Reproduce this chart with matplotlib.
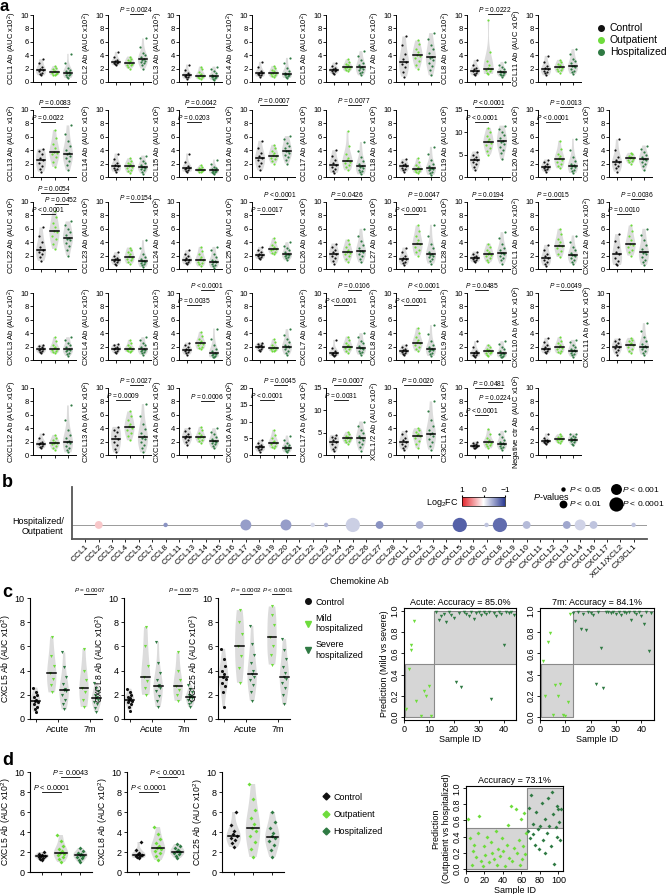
import numpy as np
import matplotlib.pyplot as plt
from matplotlib.colors import LinearSegmentedColormap, Normalize
from matplotlib.cm import ScalarMappable
from matplotlib.lines import Line2D

plt.rcParams['font.family'] = ['Liberation Sans', 'DejaVu Sans']
plt.rcParams['mathtext.fontset'] = 'custom'
plt.rcParams['mathtext.it'] = 'Liberation Sans:italic'
plt.rcParams['mathtext.rm'] = 'Liberation Sans'

# ---------------- panel a data: (control, outpatient, hospitalized) -------------
ccl1 = ([1.0, 1.2, 1.4, 1.6, 1.8, 2.0, 2.3, 2.9, 3.4], [1.0, 1.1, 1.2, 1.3, 1.4, 1.6, 1.7, 1.9, 2.1, 2.4], [0.6, 0.8, 1.0, 1.1, 1.2, 1.35, 1.45, 1.6, 1.8, 2.1, 2.8, 4.2])
ccl2 = ([2.5, 2.7, 2.8, 2.9, 3.0, 3.1, 3.3, 3.8, 4.5], [2.0, 2.3, 2.5, 2.6, 2.7, 2.9, 3.1, 3.3, 3.5, 3.8], [2.0, 2.5, 2.8, 3.0, 3.2, 3.35, 3.45, 3.7, 4.0, 4.4, 5.2, 6.5])
ccl3 = ([0.5, 0.7, 0.8, 0.9, 1.0, 1.1, 1.3, 1.8, 2.6], [0.4, 0.6, 0.7, 0.8, 0.9, 1.0, 1.2, 1.5, 1.9, 2.3], [0.3, 0.5, 0.6, 0.7, 0.8, 0.85, 0.95, 1.1, 1.3, 1.6, 2.0, 2.3])
ccl4 = ([0.8, 1.0, 1.1, 1.2, 1.3, 1.4, 1.7, 2.2, 3.0], [0.7, 0.9, 1.0, 1.2, 1.3, 1.4, 1.6, 1.8, 2.1, 2.4], [0.6, 0.8, 0.9, 1.0, 1.1, 1.15, 1.25, 1.4, 1.7, 2.1, 2.8, 3.6])
ccl5 = ([1.2, 1.4, 1.6, 1.7, 1.8, 1.9, 2.1, 2.4, 2.9], [1.6, 1.8, 1.9, 2.1, 2.2, 2.3, 2.5, 2.7, 3.0, 3.4], [1.0, 1.3, 1.5, 1.8, 2.0, 2.15, 2.3, 2.6, 2.9, 3.3, 3.9, 4.6])
ccl7 = ([0.8, 1.5, 2.2, 2.7, 3.0, 3.4, 4.2, 5.5, 6.8], [2.0, 2.6, 3.1, 3.6, 3.9, 4.1, 4.5, 5.0, 5.6, 6.2], [1.0, 1.8, 2.4, 2.9, 3.3, 3.6, 3.8, 4.3, 4.9, 5.5, 6.4, 7.3])
ccl8 = ([1.0, 1.2, 1.4, 1.6, 1.7, 1.9, 2.1, 2.6, 3.3], [1.2, 1.4, 1.6, 1.8, 1.9, 2.1, 2.5, 3.2, 4.5, 9.2], [0.8, 1.0, 1.1, 1.2, 1.4, 1.45, 1.55, 1.7, 1.9, 2.2, 2.6, 3.0])
ccl11 = ([1.0, 1.3, 1.5, 1.7, 1.9, 2.1, 2.4, 3.0, 3.9], [1.4, 1.6, 1.8, 2.0, 2.1, 2.3, 2.5, 2.7, 3.0, 3.3], [1.2, 1.5, 1.7, 1.9, 2.2, 2.35, 2.45, 2.8, 3.1, 3.5, 4.2, 4.9])
ccl13 = ([0.8, 1.2, 1.7, 2.1, 2.5, 2.9, 3.4, 3.9, 4.2], [1.5, 2.3, 3.0, 3.4, 3.6, 3.8, 4.3, 4.9, 5.8, 7.0], [1.0, 1.8, 2.4, 2.8, 3.2, 3.4, 3.6, 4.0, 4.6, 5.3, 6.4, 7.7])
ccl14 = ([0.8, 1.0, 1.2, 1.4, 1.6, 1.8, 2.1, 2.7, 3.5], [0.6, 0.9, 1.1, 1.4, 1.55, 1.65, 1.9, 2.1, 2.4, 2.8], [0.5, 0.8, 1.0, 1.2, 1.4, 1.45, 1.55, 1.8, 2.1, 2.4, 2.8, 3.2])
ccl15 = ([0.8, 0.9, 1.0, 1.2, 1.3, 1.4, 1.7, 2.3, 3.5], [0.7, 0.8, 0.9, 1.0, 1.05, 1.15, 1.2, 1.3, 1.5, 1.8], [0.5, 0.6, 0.7, 0.8, 0.9, 0.95, 1.05, 1.15, 1.3, 1.5, 1.9, 2.6])
ccl16 = ([1.0, 1.6, 2.1, 2.5, 2.8, 3.1, 3.6, 4.3, 5.4], [2.0, 2.4, 2.7, 2.9, 3.1, 3.3, 3.6, 3.9, 4.3, 4.8], [2.0, 2.6, 3.0, 3.3, 3.6, 3.85, 3.95, 4.3, 4.7, 5.1, 5.6, 6.1])
ccl17 = ([0.6, 0.9, 1.2, 1.5, 1.8, 2.1, 2.6, 3.2, 4.0], [1.0, 1.5, 1.8, 2.1, 2.3, 2.5, 2.9, 3.5, 4.6, 6.8], [0.4, 0.7, 0.9, 1.1, 1.4, 1.55, 1.65, 2.0, 2.4, 3.0, 3.9, 5.2])
ccl18 = ([0.8, 1.0, 1.2, 1.4, 1.6, 1.8, 2.0, 2.3, 2.7], [0.6, 0.8, 0.9, 1.0, 1.15, 1.25, 1.5, 1.8, 2.2, 2.8], [0.3, 0.6, 0.8, 1.0, 1.2, 1.25, 1.35, 1.6, 2.0, 2.6, 3.4, 4.5])
ccl19 = ([1.5, 2.2, 2.8, 3.3, 3.7, 4.0, 4.5, 5.0, 5.7], [5.0, 5.9, 6.6, 7.2, 7.7, 8.1, 8.6, 9.2, 10.0, 11.0], [4.0, 5.3, 6.1, 6.8, 7.4, 7.9, 8.1, 8.7, 9.3, 10.0, 10.8, 11.5])
ccl20 = ([0.8, 1.0, 1.2, 1.4, 1.5, 1.7, 1.9, 2.2, 2.6], [1.3, 1.7, 2.0, 2.3, 2.6, 2.8, 3.1, 3.5, 4.2, 5.4], [0.6, 0.9, 1.1, 1.3, 1.5, 1.65, 1.75, 2.0, 2.4, 3.0, 4.0, 5.7])
ccl21 = ([0.8, 1.3, 1.7, 2.0, 2.2, 2.5, 3.0, 4.0, 5.6], [2.0, 2.2, 2.4, 2.6, 2.75, 2.85, 3.0, 3.2, 3.4, 3.6], [1.0, 1.6, 2.0, 2.3, 2.5, 2.65, 2.75, 3.0, 3.3, 3.7, 4.2, 4.7])
ccl22 = ([1.2, 1.8, 2.2, 2.5, 2.8, 3.3, 4.0, 5.0, 6.2], [3.0, 3.8, 4.5, 5.0, 5.5, 5.7, 6.2, 6.9, 7.7, 8.6], [2.0, 2.8, 3.4, 3.9, 4.3, 4.5, 4.7, 5.1, 5.5, 6.0, 6.6, 7.1])
ccl23 = ([0.6, 0.8, 1.0, 1.2, 1.3, 1.5, 1.7, 2.0, 2.5], [0.8, 1.0, 1.3, 1.5, 1.7, 1.9, 2.2, 2.5, 2.9, 3.2], [0.3, 0.6, 0.8, 0.9, 1.1, 1.15, 1.25, 1.5, 1.8, 2.3, 3.2, 4.3])
ccl24 = ([0.7, 0.9, 1.1, 1.3, 1.4, 1.6, 1.9, 2.3, 2.8], [0.4, 0.7, 0.9, 1.1, 1.3, 1.5, 1.8, 2.2, 2.7, 3.3], [0.2, 0.4, 0.6, 0.8, 1.0, 1.05, 1.15, 1.4, 1.8, 2.3, 2.8, 3.3])
ccl25 = ([1.5, 1.7, 1.8, 2.0, 2.1, 2.3, 2.5, 2.9, 3.3], [2.2, 2.4, 2.6, 2.8, 2.95, 3.05, 3.3, 3.6, 4.0, 4.6], [1.3, 1.6, 1.8, 1.9, 2.1, 2.15, 2.25, 2.5, 2.8, 3.1, 3.5, 4.0])
ccl26 = ([0.8, 1.2, 1.6, 1.9, 2.2, 2.5, 2.8, 3.3, 3.8], [1.0, 1.5, 1.9, 2.2, 2.4, 2.6, 2.9, 3.3, 3.8, 4.4], [1.0, 1.5, 1.9, 2.2, 2.5, 2.65, 2.75, 3.1, 3.6, 4.2, 5.0, 6.0])
ccl27 = ([0.6, 0.9, 1.1, 1.3, 1.5, 1.7, 2.0, 2.5, 3.2], [2.0, 2.5, 2.9, 3.3, 3.7, 3.9, 4.3, 4.9, 5.6, 6.5], [0.8, 1.2, 1.5, 1.8, 2.0, 2.15, 2.25, 2.6, 3.1, 3.8, 5.0, 6.6])
ccl28 = ([1.0, 1.2, 1.3, 1.5, 1.7, 1.8, 2.0, 2.3, 2.6], [1.0, 1.4, 1.7, 1.9, 2.1, 2.3, 2.6, 2.9, 3.3, 3.8], [0.8, 1.3, 1.6, 1.9, 2.2, 2.35, 2.45, 2.8, 3.2, 3.8, 4.6, 5.5])
cxcl1 = ([0.5, 0.8, 1.1, 1.4, 1.6, 1.9, 2.3, 2.9, 3.6], [1.8, 2.3, 2.7, 3.1, 3.4, 3.6, 4.0, 4.5, 5.2, 6.0], [0.8, 1.1, 1.4, 1.6, 1.9, 2.05, 2.15, 2.4, 2.8, 3.3, 4.1, 5.0])
cxcl2 = ([0.6, 0.8, 1.2, 1.7, 2.2, 2.6, 3.3, 4.2, 5.2], [2.0, 2.5, 2.9, 3.3, 3.6, 3.8, 4.3, 4.9, 5.6, 6.5], [0.6, 1.0, 1.4, 1.8, 2.2, 2.4, 2.6, 3.0, 3.6, 4.3, 5.1, 6.0])
cxcl3 = ([1.0, 1.2, 1.3, 1.5, 1.6, 1.7, 1.9, 2.1, 2.3], [1.0, 1.2, 1.4, 1.5, 1.65, 1.75, 2.0, 2.3, 2.8, 3.4], [0.6, 0.9, 1.1, 1.3, 1.5, 1.55, 1.65, 1.9, 2.2, 2.6, 3.0, 3.4])
cxcl4 = ([1.0, 1.2, 1.4, 1.6, 1.7, 1.8, 2.0, 2.2, 2.4], [1.2, 1.3, 1.4, 1.55, 1.65, 1.75, 1.9, 2.2, 2.6, 3.0], [0.8, 1.0, 1.2, 1.35, 1.5, 1.55, 1.65, 1.9, 2.2, 2.6, 3.0, 3.4])
cxcl5 = ([0.8, 1.0, 1.2, 1.4, 1.5, 1.7, 1.9, 2.2, 2.6], [1.6, 1.8, 2.0, 2.2, 2.4, 2.6, 2.8, 3.1, 3.6, 4.2], [0.4, 0.5, 0.6, 0.7, 0.9, 0.95, 1.05, 1.3, 1.7, 2.3, 3.2, 4.7])
cxcl6 = ([1.3, 1.5, 1.7, 1.9, 2.0, 2.1, 2.2, 2.4, 2.6], [1.3, 1.4, 1.5, 1.7, 1.75, 1.85, 2.0, 2.3, 2.7, 3.1], [0.8, 1.1, 1.4, 1.6, 1.9, 1.95, 2.05, 2.3, 2.7, 3.1, 3.8, 4.6])
cxcl7 = ([0.6, 0.7, 0.8, 0.9, 1.0, 1.1, 1.3, 1.8, 3.0], [1.0, 1.3, 1.6, 1.8, 1.95, 2.05, 2.3, 2.6, 3.0, 3.5], [0.8, 1.0, 1.2, 1.4, 1.7, 1.75, 1.85, 2.1, 2.5, 2.9, 3.5, 4.0])
cxcl8 = ([0.8, 0.9, 1.1, 1.2, 1.4, 1.5, 1.7, 2.0, 2.3], [1.3, 1.7, 2.0, 2.3, 2.55, 2.65, 3.0, 3.4, 4.0, 4.8], [0.6, 0.9, 1.1, 1.3, 1.5, 1.55, 1.65, 1.9, 2.3, 2.9, 3.9, 5.2])
cxcl9 = ([0.5, 0.6, 0.7, 0.8, 1.0, 1.1, 1.3, 1.9, 2.8], [0.6, 0.8, 1.0, 1.1, 1.25, 1.35, 1.5, 1.7, 2.0, 2.3], [0.4, 0.5, 0.6, 0.7, 0.9, 0.95, 1.05, 1.3, 1.6, 2.0, 2.4, 2.8])
cxcl10 = ([1.0, 1.2, 1.4, 1.6, 1.7, 1.9, 2.2, 2.7, 3.3], [1.0, 1.2, 1.4, 1.6, 1.85, 1.95, 2.2, 2.5, 2.9, 3.4], [0.5, 0.7, 0.9, 1.1, 1.3, 1.35, 1.45, 1.7, 2.0, 2.3, 2.7, 3.0])
cxcl11 = ([0.8, 1.2, 1.5, 1.8, 2.0, 2.2, 2.5, 2.8, 3.2], [1.0, 1.4, 1.7, 2.0, 2.25, 2.35, 2.6, 2.8, 3.0, 3.3], [0.8, 1.1, 1.4, 1.7, 1.9, 1.95, 2.05, 2.4, 2.9, 3.5, 4.4, 5.5])
cxcl12 = ([1.0, 1.2, 1.4, 1.6, 1.7, 1.8, 2.0, 2.5, 3.2], [0.8, 1.1, 1.3, 1.6, 1.75, 1.85, 2.0, 2.3, 2.6, 3.0], [0.4, 0.8, 1.1, 1.4, 1.8, 1.95, 2.05, 2.5, 3.0, 3.8, 5.2, 7.4])
cxcl13 = ([0.4, 0.9, 1.5, 2.0, 2.4, 2.9, 3.4, 3.8, 4.2], [2.2, 2.8, 3.3, 3.7, 4.1, 4.3, 4.7, 5.2, 5.8, 6.5], [0.4, 1.0, 1.5, 1.9, 2.4, 2.6, 2.8, 3.3, 3.9, 4.7, 5.8, 7.6])
cxcl14 = ([1.5, 1.9, 2.2, 2.5, 2.7, 2.9, 3.2, 3.6, 4.0], [1.8, 2.1, 2.3, 2.5, 2.65, 2.75, 3.0, 3.3, 3.7, 4.2], [1.0, 1.3, 1.6, 1.8, 2.0, 2.05, 2.15, 2.4, 2.7, 3.1, 3.5, 4.0])
cxcl16 = ([1.0, 1.4, 1.7, 2.0, 2.3, 2.6, 3.0, 3.6, 4.5], [2.0, 2.4, 2.8, 3.2, 3.6, 3.8, 4.3, 5.0, 6.0, 7.5], [0.8, 1.1, 1.4, 1.7, 2.0, 2.15, 2.25, 2.6, 3.1, 3.7, 4.6, 5.8])
cxcl17 = ([0.8, 1.4, 1.9, 2.4, 2.9, 3.3, 3.7, 4.1, 4.5], [2.5, 2.8, 3.1, 3.4, 3.65, 3.75, 4.0, 4.3, 4.7, 5.2], [1.0, 1.8, 2.4, 2.9, 3.4, 3.75, 3.85, 4.3, 4.9, 5.6, 6.5, 7.5])
xcl1_2 = ([0.8, 1.1, 1.4, 1.7, 1.9, 2.2, 2.6, 3.1, 3.6], [1.0, 1.6, 2.1, 2.5, 2.85, 2.95, 3.2, 3.5, 3.8, 4.0], [0.8, 1.4, 1.9, 2.4, 2.9, 3.15, 3.25, 3.7, 4.3, 5.2, 6.5, 8.0])
cx3cl1 = ([1.0, 1.1, 1.2, 1.3, 1.4, 1.5, 1.6, 1.8, 2.0], [1.0, 1.3, 1.5, 1.7, 1.85, 1.95, 2.2, 2.6, 3.2, 3.9], [0.8, 1.0, 1.2, 1.4, 1.6, 1.65, 1.75, 2.0, 2.3, 2.7, 3.1, 3.6])
neg_ctr = ([1.7, 1.8, 1.9, 2.0, 2.1, 2.2, 2.3, 2.6, 3.2], [1.8, 1.9, 2.1, 2.3, 2.35, 2.45, 2.6, 2.7, 2.9, 3.1], [1.5, 1.7, 1.9, 2.1, 2.2, 2.25, 2.35, 2.5, 2.7, 2.9, 3.1, 3.2])

rows_a = [
    [("CCL1", ccl1), ("CCL2", ccl2), ("CCL3", ccl3), ("CCL4", ccl4), ("CCL5", ccl5),
     ("CCL7", ccl7), ("CCL8", ccl8), ("CCL11", ccl11)],
    [("CCL13", ccl13), ("CCL14", ccl14), ("CCL15", ccl15), ("CCL16", ccl16), ("CCL17", ccl17),
     ("CCL18", ccl18), ("CCL19", ccl19), ("CCL20", ccl20), ("CCL21", ccl21)],
    [("CCL22", ccl22), ("CCL23", ccl23), ("CCL24", ccl24), ("CCL25", ccl25), ("CCL26", ccl26),
     ("CCL27", ccl27), ("CCL28", ccl28), ("CXCL1", cxcl1), ("CXCL2", cxcl2)],
    [("CXCL3", cxcl3), ("CXCL4", cxcl4), ("CXCL5", cxcl5), ("CXCL6", cxcl6), ("CXCL7", cxcl7),
     ("CXCL8", cxcl8), ("CXCL9", cxcl9), ("CXCL10", cxcl10), ("CXCL11", cxcl11)],
    [("CXCL12", cxcl12), ("CXCL13", cxcl13), ("CXCL14", cxcl14), ("CXCL16", cxcl16),
     ("CXCL17", cxcl17), ("XCL1/2", xcl1_2), ("CX3CL1", cx3cl1), ("Negative ctr", neg_ctr)],
]
ymax_a = {"CCL19": 15, "CXCL16": 20, "CXCL17": 15}

# (panel, group i, group j, text, bracket height as fraction of y max)
annot_a = [
    ("CCL2", 1, 2, "= 0.0024", 1.02), ("CCL8", 1, 2, "= 0.0222", 1.02),
    ("CCL13", 0, 2, "= 0.0083", 1.05), ("CCL13", 0, 1, "= 0.0022", 0.82),
    ("CCL15", 0, 2, "= 0.0042", 1.05), ("CCL15", 0, 1, "= 0.0203", 0.82),
    ("CCL16", 0, 2, "= 0.0007", 1.07), ("CCL17", 1, 2, "= 0.0077", 1.07),
    ("CCL19", 0, 2, "< 0.0001", 1.05), ("CCL19", 0, 1, "< 0.0001", 0.82),
    ("CCL20", 1, 2, "= 0.0013", 1.05), ("CCL20", 0, 1, "< 0.0001", 0.82),
    ("CCL22", 0, 2, "= 0.0054", 1.13), ("CCL22", 1, 2, "= 0.0452", 0.97),
    ("CCL22", 0, 1, "< 0.0001", 0.82), ("CCL23", 1, 2, "= 0.0154", 1.0),
    ("CCL25", 1, 2, "< 0.0001", 1.05), ("CCL25", 0, 1, "= 0.0017", 0.82),
    ("CCL26", 0, 2, "= 0.0426", 1.05),
    ("CCL27", 1, 2, "= 0.0047", 1.05), ("CCL27", 0, 1, "< 0.0001", 0.82),
    ("CCL28", 0, 2, "= 0.0194", 1.05), ("CXCL1", 0, 1, "= 0.0015", 1.05),
    ("CXCL2", 1, 2, "= 0.0036", 1.05), ("CXCL2", 0, 1, "= 0.0010", 0.82),
    ("CXCL5", 1, 2, "< 0.0001", 1.05), ("CXCL5", 0, 1, "= 0.0035", 0.82),
    ("CXCL7", 1, 2, "= 0.0106", 1.05), ("CXCL7", 0, 1, "< 0.0001", 0.82),
    ("CXCL8", 1, 2, "< 0.0001", 1.05), ("CXCL8", 0, 1, "< 0.0001", 0.82),
    ("CXCL9", 0, 1, "= 0.0485", 1.05), ("CXCL10", 1, 2, "= 0.0049", 1.05),
    ("CXCL13", 1, 2, "= 0.0027", 1.05), ("CXCL13", 0, 1, "= 0.0009", 0.82),
    ("CXCL14", 1, 2, "= 0.0006", 0.8),
    ("CXCL16", 1, 2, "= 0.0045", 1.05), ("CXCL16", 0, 1, "< 0.0001", 0.82),
    ("CXCL17", 0, 2, "= 0.0007", 1.05), ("CXCL17", 0, 1, "= 0.0031", 0.82),
    ("XCL1/2", 0, 2, "= 0.0020", 1.05),
    ("CX3CL1", 0, 2, "= 0.0481", 1.0), ("CX3CL1", 1, 2, "= 0.0224", 0.79),
    ("CX3CL1", 0, 1, "< 0.0001", 0.6),
]

# ---------------- panel b data ----------------
b_names = ["CCL1", "CCL2", "CCL3", "CCL4", "CCL5", "CCL7", "CCL8", "CCL11", "CCL13", "CCL14",
           "CCL15", "CCL16", "CCL17", "CCL18", "CCL19", "CCL20", "CCL21", "CCL22", "CCL23",
           "CCL24", "CCL25", "CCL26", "CCL27", "CCL28", "CXCL1", "CXCL2", "CXCL3", "CXCL4",
           "CXCL5", "CXCL6", "CXCL7", "CXCL8", "CXCL9", "CXCL10", "CXCL11", "CXCL12", "CXCL13",
           "CXCL14", "CXCL16", "CXCL17", "XCL1/XCL2", "CX3CL1"]
b_sig = ["CCL2", "CCL8", "CCL17", "CCL20", "CCL22", "CCL23", "CCL25", "CCL27", "CXCL2",
         "CXCL5", "CXCL7", "CXCL8", "CXCL10", "CXCL13", "CXCL14", "CXCL16", "CX3CL1"]
b_log2fc = [0.25, -0.55, -0.5, -0.5, -0.18, -0.38, -0.25, -0.55, -0.4,
            -0.8, -0.3, -0.75, -0.35, -0.45, -0.22, -0.3, -0.3]
b_plevel = [2, 1, 3, 3, 1, 1, 4, 2, 2, 4, 1, 4, 2, 2, 3, 2, 1]

# ---------------- panel c data ----------------
c_names = ["CXCL5", "CXCL8", "CCL25"]
c_ctrl = [[0.6, 0.8, 1.0, 1.2, 1.4, 1.5, 1.6, 1.8, 2.0, 2.2, 2.6],
          [0.7, 1.0, 1.2, 1.4, 1.5, 1.6, 1.7, 1.8, 2.0, 2.2, 2.5],
          [1.0, 2.2, 2.7, 3.0, 3.3, 3.5, 3.7, 4.0, 4.4, 5.0, 5.8]]
c_acute_mild = [[2.2, 2.8, 3.3, 3.8, 4.4, 5.2, 6.8],
                [2.0, 2.6, 3.1, 3.5, 4.4, 6.0, 7.6],
                [3.0, 4.2, 5.2, 6.0, 7.0, 8.0, 9.0]]
c_acute_sev = [[0.8, 1.2, 1.6, 2.0, 2.3, 2.4, 2.5, 2.9, 3.5, 4.3, 5.5],
               [1.0, 1.5, 1.9, 2.3, 2.6, 2.7, 2.8, 3.2, 3.8, 4.6, 6.4],
               [1.5, 2.2, 2.8, 3.2, 3.5, 3.7, 4.0, 4.6, 5.3, 6.2, 7.7]]
c_7m_mild = [[1.0, 1.6, 2.2, 2.6, 3.2, 4.0, 5.8],
             [1.5, 2.0, 2.4, 2.7, 3.2, 4.0, 5.5],
             [4.5, 5.3, 6.0, 6.8, 7.8, 8.6, 9.3]]
c_7m_sev = [[0.6, 0.9, 1.2, 1.4, 1.6, 1.7, 1.8, 2.0, 2.3, 2.6, 3.0],
            [1.0, 1.2, 1.4, 1.6, 1.7, 1.8, 1.9, 2.0, 2.2, 2.5, 2.8],
            [1.2, 2.0, 2.6, 3.0, 3.3, 3.5, 3.8, 4.3, 5.0, 5.7, 6.6]]
c_pvals = [[(3, 4, "= 0.0007")], [(3, 4, "= 0.0075")], [(1, 2, "= 0.0002"), (3, 4, "< 0.0001")]]

acute_mild_id = [1, 2, 3, 3, 4, 5, 7, 8, 9, 10, 11]
acute_mild_pred = [0.07, 0.45, 0.68, 0.63, 0.91, 0.15, 0.01, 0.24, 0.20, 0.29, 0.01]
acute_sev_id = list(range(13, 45))
acute_sev_pred = [0.99, 0.92, 0.95, 0.97, 0.90, 0.99, 0.96, 0.94, 0.33, 0.98, 0.28, 0.99,
                  0.97, 0.95, 0.99, 0.93, 0.98, 0.99, 0.96, 0.99, 0.97, 0.99, 0.17, 0.98,
                  0.95, 0.99, 0.97, 0.68, 0.99, 0.98, 0.99, 0.96]
m7_mild_id = [1, 2, 3, 4, 5, 6, 7, 8, 9, 10, 11, 12]
m7_mild_pred = [0.53, 0.20, 0.71, 0.79, 0.02, 0.30, 0.20, 0.31, 0.02, 0.01, 0.14, 0.97]
m7_sev_id = list(range(13, 45))
m7_sev_pred = [0.98, 0.91, 0.99, 0.83, 0.97, 0.82, 0.99, 0.98, 0.96, 0.31, 0.99, 0.65,
               0.27, 0.99, 0.99, 0.98, 0.99, 0.97, 0.99, 0.96, 0.99, 0.98, 0.99, 0.92,
               0.99, 0.97, 0.99, 0.95, 0.88, 0.99, 0.62, 0.98]

# ---------------- panel d data ----------------
d_names = ["CXCL5", "CXCL8", "CCL25"]
d_ctrl = [[1.2, 1.35, 1.45, 1.55, 1.6, 1.65, 1.75, 1.85, 2.0],
          [1.4, 1.5, 1.6, 1.65, 1.7, 1.8, 1.9, 2.2, 3.0],
          [2.5, 2.9, 3.2, 3.4, 3.6, 3.8, 4.1, 4.7, 6.0]]
d_out = [[1.0, 1.3, 1.5, 1.7, 1.85, 1.9, 2.1, 2.3, 2.6, 3.1, 3.7],
         [1.2, 1.6, 1.9, 2.1, 2.3, 2.4, 2.6, 2.9, 3.3, 3.8, 4.5],
         [1.5, 2.3, 3.0, 3.6, 4.1, 4.4, 4.8, 5.4, 6.2, 7.3, 8.8]]
d_hosp = [[1.0, 1.2, 1.4, 1.55, 1.65, 1.7, 1.8, 1.95, 2.1, 2.4],
          [1.4, 1.6, 1.8, 1.9, 2.0, 2.1, 2.2, 2.4, 2.6, 2.8],
          [1.5, 2.2, 2.7, 3.1, 3.4, 3.6, 3.9, 4.4, 5.0, 6.0]]
d_pvals = [[(0, 1, "< 0.0001", 0.8), (1, 2, "= 0.0043", 0.95)],
           [(0, 1, "< 0.0001", 0.8), (1, 2, "< 0.0001", 0.95)], []]

d_out_id = [2, 4, 6, 8, 9, 11, 13, 14, 16, 18, 20, 21, 23, 25, 27, 28, 30, 32, 34, 35,
            37, 39, 40, 42, 44, 46, 47, 49, 50, 52, 54, 55, 57, 58, 60, 61, 62, 63, 64, 65]
d_out_pred = [0.62, 0.38, 0.05, 0.22, 0.30, 0.14, 0.45, 0.65, 0.10, 0.03, 0.28, 0.17,
              0.40, 0.08, 0.33, 0.20, 0.12, 0.47, 0.05, 0.25, 0.16, 0.38, 0.22, 0.03,
              0.30, 0.54, 0.13, 0.78, 0.09, 0.26, 0.74, 0.20, 0.36, 0.05, 0.62, 0.12,
              0.28, 0.69, 0.18, 0.44]
d_hosp_id = [67, 68, 69, 70, 72, 73, 75, 76, 78, 79, 80, 82, 83, 85, 86, 88, 89, 90, 92,
             93, 94, 95, 97, 98, 99, 100, 101, 102, 103]
d_hosp_pred = [0.47, 0.75, 0.38, 0.92, 0.43, 0.55, 0.30, 0.70, 0.49, 0.25, 0.53, 0.82,
               0.36, 0.20, 0.62, 0.44, 0.88, 0.53, 0.28, 0.95, 0.68, 0.06, 0.52, 0.78,
               0.40, 0.74, 0.58, 0.36, 0.74]

# ---------------- styling ----------------
BLACK = "#111111"
LIGHT = "#6edc3c"
DARK = "#2f7a43"
VIOLIN = "#dcdcdc"
JIT = np.array([0, -1, 1, -2, 2, -0.5, 0.5, -1.5, 1.5, 0, -2.5, 2.5])

W, H = 671, 894
fig = plt.figure(figsize=(W / 100, H / 100), dpi=100)


def px_axes(left, top, width, height):
    return fig.add_axes([left / W, 1 - (top + height) / H, width / W, height / H])


def clean(ax, lw=0.8):
    for s in ("top", "right"):
        ax.spines[s].set_visible(False)
    for s in ("left", "bottom"):
        ax.spines[s].set_linewidth(lw)


def strip(ax, groups, pos, colors, markers, ms, jw, vw, mw):
    for vals, p, c, m in zip(groups, pos, colors, markers):
        vals = np.sort(np.asarray(vals, dtype=float))
        vp = ax.violinplot(vals, positions=[p], widths=vw, showextrema=False)
        for body in vp["bodies"]:
            body.set_facecolor(VIOLIN)
            body.set_edgecolor("none")
            body.set_alpha(1)
            body.set_zorder(1)
        ax.scatter(p + JIT[:len(vals)] * jw, vals, s=ms, c=c, marker=m,
                   linewidths=0, zorder=3)
        ax.plot([p - mw, p + mw], [np.median(vals)] * 2, color="k", lw=1.1, zorder=4)


def bracket(ax, x1, x2, y, text, fs):
    ax.plot([x1, x2], [y, y], color="k", lw=0.6, clip_on=False)
    ax.text((x1 + x2) / 2, y, r"$\it{P}$ " + text, ha="center", va="bottom",
            fontsize=fs, clip_on=False)


# ---------------- panel a ----------------
col_left = [33, 108, 179, 252, 326, 396, 467, 538, 609]
row_top = [15, 110, 202, 293, 388]
for r, row in enumerate(rows_a):
    for c, (name, groups) in enumerate(row):
        ax = px_axes(col_left[c], row_top[r], 43, 67)
        clean(ax, 0.7)
        ymax = ymax_a.get(name, 10)
        strip(ax, groups, [0, 1, 2], [BLACK, LIGHT, DARK], ["o", "o", "o"],
              ms=2.5, jw=0.09, vw=0.75, mw=0.3)
        ax.set_xlim(-0.6, 2.6)
        ax.set_ylim(0, ymax)
        ax.set_yticks(np.arange(0, ymax + 0.1, 2 if ymax == 10 else 5))
        ax.set_xticks([0, 1, 2])
        ax.set_xticklabels([])
        ax.tick_params(axis="both", length=2, width=0.6, labelsize=5.5, pad=1)
        ax.set_ylabel(name + r" Ab (AUC x10$^2$)", fontsize=5.5, labelpad=1)
        for pn, i, j, txt, lev in annot_a:
            if pn == name:
                bracket(ax, i, j, lev * ymax, txt, 4.8)

# legend for panel a
leg_handles = [Line2D([], [], ls="", marker="o", ms=4, color=col)
               for col in (BLACK, LIGHT, DARK)]
fig.legend(leg_handles, ["Control", "Outpatient", "Hospitalized"],
           loc="upper left", bbox_to_anchor=(592 / W, 1 - 19 / H), frameon=False,
           fontsize=7.5, handlelength=1.0, handletextpad=0.3, labelspacing=0.2,
           borderaxespad=0)

# ---------------- panel b ----------------
axb = px_axes(72, 487, 575, 52)
for s in ("top", "right"):
    axb.spines[s].set_visible(False)
for s in ("left", "bottom"):
    axb.spines[s].set_linewidth(1.3)
    axb.spines[s].set_color("#555555")
axb.set_xlim(-1, 42)
axb.set_ylim(-0.37, 1)
axb.axhline(0, color="#9a9a9a", lw=0.7, zorder=1)
cmap = LinearSegmentedColormap.from_list("fc", ["#2c3b93", "#ffffff", "#e3242b"])
norm = Normalize(-1, 1)
bx = [b_names.index(n) for n in b_sig]
size_map = {1: 10, 2: 32, 3: 62, 4: 105}
axb.scatter(bx, [0] * len(bx), s=[size_map[l] for l in b_plevel],
            c=cmap(norm(np.array(b_log2fc))), linewidths=0, zorder=3)
axb.set_xticks(range(len(b_names)))
axb.set_xticklabels(b_names, rotation=45, ha="right", rotation_mode="anchor", fontsize=6)
axb.set_yticks([0])
axb.set_yticklabels(["Hospitalized/\nOutpatient"], fontsize=6.5)
axb.tick_params(axis="y", length=0, pad=6)
axb.tick_params(axis="x", length=2, width=0.6, pad=1)
axb.set_xlabel("Chemokine Ab", fontsize=6.5, labelpad=-2)

cax = px_axes(462, 497, 43, 9)
cb = fig.colorbar(ScalarMappable(norm=norm, cmap=cmap), cax=cax, orientation="horizontal")
cax.invert_xaxis()
cb.set_ticks([1, 0, -1])
cb.ax.xaxis.set_ticks_position("top")
cb.ax.tick_params(labelsize=6, length=1.5, pad=1)
cb.outline.set_linewidth(0.5)
fig.text(459 / W, 1 - 503 / H, r"Log$_2$FC", ha="right", va="center", fontsize=6.5)

# p-value size legend on an overlay in pixel units
ov = fig.add_axes([0, 0, 1, 1])
ov.set_zorder(10)
ov.patch.set_visible(False)
ov.set_xlim(0, W)
ov.set_ylim(H, 0)
ov.axis("off")
ov.text(533, 496, r"$\it{P}$-values", ha="left", va="center", fontsize=6.5)
for (lx, ly), lev, txt in zip([(563, 489), (563, 504), (616, 489), (616, 504)],
                              [1, 2, 3, 4],
                              ["< 0.05", "< 0.01", "< 0.001", "< 0.0001"]):
    ov.scatter([lx], [ly], s=size_map[lev], c="k", linewidths=0)
    ov.text(lx + 6, ly, r"$\it{P}$ " + txt, ha="left", va="center", fontsize=6)

# ---------------- panel c ----------------
c_left = [30, 124, 218]
c_pos = [0, 1.3, 2.3, 3.9, 4.9]
for k in range(3):
    ax = px_axes(c_left[k], 598, 72, 121)
    clean(ax)
    groups = [c_ctrl[k], c_acute_mild[k], c_acute_sev[k], c_7m_mild[k], c_7m_sev[k]]
    strip(ax, groups, c_pos, [BLACK, LIGHT, DARK, LIGHT, DARK], ["o", "v", "v", "v", "v"],
          ms=5, jw=0.08, vw=0.75, mw=0.36)
    ax.set_xlim(-0.45, 5.35)
    ax.set_ylim(0, 10)
    ax.set_yticks(range(0, 11, 2))
    ax.set_xticks([0, 1.8, 4.4])
    ax.set_xticklabels(["", "Acute", "7m"])
    ax.tick_params(axis="both", length=2.5, width=0.6, labelsize=6.5, pad=1.5)
    ax.set_ylabel(c_names[k] + r" Ab (AUC x10$^2$)", fontsize=6.2, labelpad=1)
    for i, j, txt in c_pvals[k]:
        bracket(ax, c_pos[i], c_pos[j], 10.3, txt, 4.5)

c_handles = [Line2D([], [], ls="", marker="o", ms=4, color=BLACK),
             Line2D([], [], ls="", marker="v", ms=5, color=LIGHT),
             Line2D([], [], ls="", marker="v", ms=5, color=DARK)]
fig.legend(c_handles, ["Control", "Mild\nhospitalized", "Severe\nhospitalized"],
           loc="upper left", bbox_to_anchor=(300 / W, 1 - 594 / H), frameon=False,
           fontsize=6.5, handlelength=1.0, handletextpad=0.3, labelspacing=0.8,
           borderaxespad=0)


def pred_panel(ax, a_id, a_pred, b_id, b_pred, xmax, title, marker, ms):
    split = max(a_id) + 1
    ax.fill_between([0.5, split], 0, 0.5, color="#d6d6d6", edgecolor="#8a8a8a", lw=0.8, zorder=1)
    ax.fill_between([split, xmax], 0.5, 1.0, color="#d6d6d6", edgecolor="#8a8a8a", lw=0.8, zorder=1)
    ax.scatter(a_id, a_pred, s=ms, c=LIGHT, marker=marker, linewidths=0, zorder=3)
    ax.scatter(b_id, b_pred, s=ms, c=DARK, marker=marker, linewidths=0, zorder=3)
    ax.set_xlim(0, xmax)
    ax.set_ylim(-0.03, 1.03)
    ax.set_yticks(np.arange(0, 1.01, 0.2))
    ax.set_yticklabels(["0.0", "0.2", "0.4", "0.6", "0.8", "1.0"], rotation=90, va="center")
    ax.tick_params(axis="both", length=2, width=0.6, labelsize=6.5, pad=1.5)
    ax.set_xlabel("Sample ID", fontsize=6.5, labelpad=1)
    ax.set_title(title, fontsize=6.5, pad=2)
    for s in ax.spines.values():
        s.set_linewidth(0.8)


axp1 = px_axes(404, 608, 112, 112)
pred_panel(axp1, acute_mild_id, acute_mild_pred, acute_sev_id, acute_sev_pred, 45,
           "Acute: Accuracy = 85.0%", "v", 6)
axp1.set_xticks(range(0, 41, 10))
axp1.set_ylabel("Prediction (Mild vs severe)", fontsize=6.5, labelpad=1)
axp2 = px_axes(540, 608, 114, 112)
pred_panel(axp2, m7_mild_id, m7_mild_pred, m7_sev_id, m7_sev_pred, 45,
           "7m: Accuracy = 84.1%", "v", 6)
axp2.set_xticks(range(0, 41, 10))

# ---------------- panel d ----------------
d_left = [30, 127, 222]
for k in range(3):
    ax = px_axes(d_left[k], 772, 62, 100)
    clean(ax)
    strip(ax, [d_ctrl[k], d_out[k], d_hosp[k]], [0, 1, 2], [BLACK, LIGHT, DARK],
          ["D", "D", "D"], ms=4, jw=0.08, vw=0.75, mw=0.3)
    ax.set_xlim(-0.6, 2.6)
    ax.set_ylim(0, 10)
    ax.set_yticks(range(0, 11, 2))
    ax.set_xticks([0, 1, 2])
    ax.set_xticklabels([])
    ax.tick_params(axis="both", length=2.5, width=0.6, labelsize=6.5, pad=1.5)
    ax.set_ylabel(d_names[k] + r" Ab (AUC x10$^2$)", fontsize=6.2, labelpad=1)
    for i, j, txt, lev in d_pvals[k]:
        bracket(ax, i, j, lev * 10, txt, 5.2)

d_handles = [Line2D([], [], ls="", marker="D", ms=3.5, color=col) for col in (BLACK, LIGHT, DARK)]
fig.legend(d_handles, ["Control", "Outpatient", "Hospitalized"],
           loc="upper left", bbox_to_anchor=(318 / W, 1 - 789 / H), frameon=False,
           fontsize=6.5, handlelength=1.0, handletextpad=0.3, labelspacing=0.9,
           borderaxespad=0)

axpd = px_axes(466, 786, 97, 85)
pred_panel(axpd, d_out_id, d_out_pred, d_hosp_id, d_hosp_pred, 105,
           "Accuracy = 73.1%", "D", 4)
axpd.set_xticks(range(0, 101, 20))
axpd.set_ylabel("Prediction\n(Outpatient vs hospitalized)", fontsize=6.5, labelpad=1)

# panel letters
for letter, (lx, ly), fs in zip("abcd", [(0, -1), (2, 474), (2, 584), (2, 752)],
                                [12, 13, 13, 13]):
    fig.text(lx / W, 1 - ly / H, letter, fontsize=fs, fontweight="bold", va="top", ha="left")

fig.savefig("out.png", dpi=100)
